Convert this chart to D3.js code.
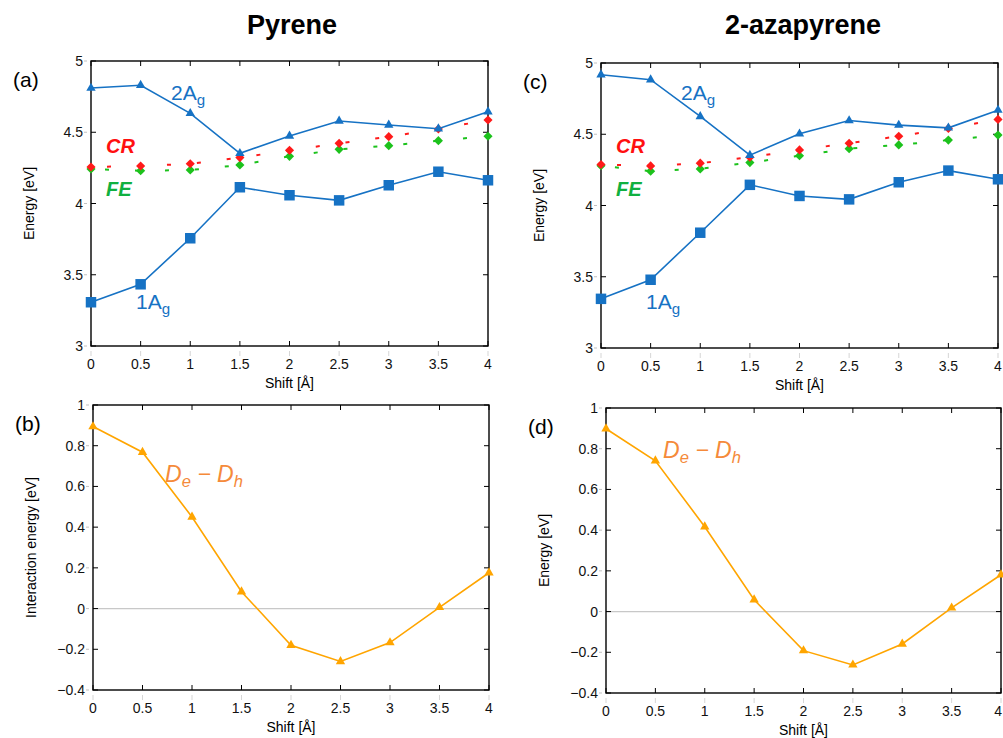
<!DOCTYPE html>
<html>
<head>
<meta charset="utf-8">
<script src="https://cdn.jsdelivr.net/npm/d3@7"></script>
<style>
body { margin: 0; background: #fff; }
svg text { font-family: "Liberation Sans", Arial, Helvetica, sans-serif; }
</style>
</head>
<body>
<svg id="fig" width="1003" height="738"></svg>
<script>
// shift values, shared by every panel
var shifts = [0, 0.5, 1, 1.5, 2, 2.5, 3, 3.5, 4];
var xTicks = [0, 0.5, 1, 1.5, 2, 2.5, 3, 3.5, 4];
var topTicks = [3, 3.5, 4, 4.5, 5];
var botTicks = [-0.4, -0.2, 0, 0.2, 0.4, 0.6, 0.8, 1];

// pyrene
var pyr_2Ag = [4.81, 4.83, 4.633, 4.352, 4.474, 4.579, 4.551, 4.525, 4.644];
var pyr_1Ag = [3.307, 3.433, 3.756, 4.114, 4.058, 4.022, 4.128, 4.223, 4.163];
var pyr_CR  = [4.256, 4.263, 4.279, 4.322, 4.373, 4.422, 4.469, 4.523, 4.586];
var pyr_FE  = [4.242, 4.23, 4.235, 4.27, 4.331, 4.38, 4.406, 4.441, 4.472];
var pyr_DeDh = [0.894, 0.768, 0.45, 0.083, -0.18, -0.26, -0.167, 0.006, 0.176];

// 2-azapyrene
var aza_2Ag = [4.918, 4.883, 4.625, 4.353, 4.503, 4.596, 4.564, 4.545, 4.669];
var aza_1Ag = [3.345, 3.479, 3.809, 4.145, 4.067, 4.043, 4.163, 4.245, 4.184];
var aza_CR  = [4.288, 4.278, 4.297, 4.339, 4.39, 4.437, 4.486, 4.541, 4.604];
var aza_FE  = [4.279, 4.241, 4.257, 4.301, 4.349, 4.399, 4.425, 4.459, 4.494];
var aza_DeDh = [0.898, 0.741, 0.417, 0.058, -0.192, -0.262, -0.159, 0.018, 0.181];

var blue = "#1672c4", red = "#ff1a1a", green = "#1cc21c", orange = "#ffa500";
var W = 1003;

var svg = d3.select("#fig");

svg.append("text").attr("x", 292).attr("y", 34).attr("text-anchor", "middle")
  .style("font-size", "27px").style("font-weight", "bold").text("Pyrene");
svg.append("text").attr("x", 803).attr("y", 34).attr("text-anchor", "middle")
  .style("font-size", "27px").style("font-weight", "bold").text("2-azapyrene");

function panel(p) {
  var x = d3.scaleLinear().domain([0, 4]).range([p.left, p.right]);
  var y = d3.scaleLinear().domain(p.ydom).range([p.bottom, p.top]);
  var g = svg.append("g");

  if (p.zero) {
    g.append("line").attr("x1", p.left).attr("x2", p.right)
      .attr("y1", y(0)).attr("y2", y(0)).attr("stroke", "#c8c8c8").attr("stroke-width", 1.2);
  }

  // ticks (gnuplot style, inside + mirrored)
  xTicks.forEach(function(t) {
    g.append("line").attr("x1", x(t)).attr("x2", x(t)).attr("y1", p.bottom).attr("y2", p.bottom - 5).attr("stroke", "#000");
    g.append("line").attr("x1", x(t)).attr("x2", x(t)).attr("y1", p.top).attr("y2", p.top + 5).attr("stroke", "#000");
    g.append("line").attr("x1", x(t)).attr("x2", x(t)).attr("y1", p.bottom + 5).attr("y2", p.bottom + 10).attr("stroke", "#bbb").attr("stroke-width", 0.6);
    // keep the last label inside the page when the panel touches the edge
    var edge = x(t) + 5 > W;
    g.append("text").attr("x", edge ? W - 1 : x(t)).attr("y", p.bottom + 23)
      .attr("text-anchor", edge ? "end" : "middle")
      .style("font-size", "14px").attr("fill", "#111").text(t);
  });
  p.yticks.forEach(function(t) {
    g.append("line").attr("x1", p.left).attr("x2", p.left + 5).attr("y1", y(t)).attr("y2", y(t)).attr("stroke", "#000");
    g.append("line").attr("x1", p.right).attr("x2", p.right - 5).attr("y1", y(t)).attr("y2", y(t)).attr("stroke", "#000");
    g.append("line").attr("x1", p.left - 7).attr("x2", p.left - 4).attr("y1", y(t)).attr("y2", y(t)).attr("stroke", "#999").attr("stroke-width", 0.6);
    g.append("text").attr("x", p.left - 8).attr("y", y(t) + 5).attr("text-anchor", "end")
      .style("font-size", "14px").attr("fill", "#111").text(d3.format("")(t).replace("-", "\u2212"));
  });

  g.append("rect").attr("x", p.left).attr("y", p.top).attr("width", p.right - p.left)
    .attr("height", p.bottom - p.top).attr("fill", "none").attr("stroke", "#000").attr("stroke-width", 1.4);

  g.append("text").attr("x", (p.left + p.right) / 2).attr("y", p.bottom + 42).attr("text-anchor", "middle")
    .style("font-size", "14px").text("Shift [\u00c5]");
  g.append("text").attr("transform", "translate(" + (p.left - 57) + "," + ((p.top + p.bottom) / 2) + ") rotate(-90)")
    .attr("text-anchor", "middle").style("font-size", "14px").text(p.ylabel);
  g.append("text").attr("x", p.left - 78).attr("y", p.top + 26).style("font-size", "21px").text(p.tag);

  var line = d3.line().x(function(d) { return x(d[0]); }).y(function(d) { return y(d[1]); });

  p.series.forEach(function(s) {
    var pts = shifts.map(function(v, i) { return [v, s.values[i]]; });
    var path = g.append("path").datum(pts).attr("d", line).attr("fill", "none")
      .attr("stroke", s.color).attr("stroke-width", s.dash ? 2 : 1.6);
    if (s.dash) path.attr("stroke-dasharray", s.dash).attr("stroke-dashoffset", s.offset || 0);
    var sym = d3.symbol().type(s.shape).size(s.size);
    g.selectAll(null).data(pts).enter().append("path")
      .attr("d", sym)
      .attr("transform", function(d) {
        return "translate(" + x(d[0]) + "," + y(d[1]) + ")" + (s.rot ? " rotate(45)" : "");
      })
      .attr("fill", s.color);
  });

  p.labels.forEach(function(l) {
    var t = g.append("text").attr("x", l.x).attr("y", l.y).attr("fill", l.color)
      .style("font-size", l.size + "px");
    if (l.bold) t.style("font-weight", "bold");
    if (l.italic) t.style("font-style", "italic");
    l.parts.forEach(function(pt) {
      var ts = t.append("tspan").text(pt.t);
      if (pt.sub) ts.attr("dy", 5).style("font-size", (l.size * 0.72) + "px");
      if (pt.up) ts.attr("dy", -5);
    });
  });
}

function topSeries(a2, a1, cr, fe) {
  return [
    {values: fe, color: green, shape: d3.symbolSquare, size: 42, rot: true, dash: "4,26", offset: -14},
    {values: cr, color: red, shape: d3.symbolSquare, size: 42, rot: true, dash: "4,26", offset: -16},
    {values: a2, color: blue, shape: d3.symbolTriangle, size: 38},
    {values: a1, color: blue, shape: d3.symbolSquare, size: 110}
  ];
}

function topLabels(dx) {
  return [
    {x: 171 + dx, y: 100, color: blue, size: 21, parts: [{t: "2A"}, {t: "g", sub: true}]},
    {x: 136 + dx, y: 309, color: blue, size: 21, parts: [{t: "1A"}, {t: "g", sub: true}]},
    {x: 106 + dx, y: 153, color: "#ff1010", size: 20, bold: true, italic: true, parts: [{t: "CR"}]},
    {x: 106 + dx, y: 196, color: "#10b040", size: 20, bold: true, italic: true, parts: [{t: "FE"}]}
  ];
}

panel({left: 91, right: 488, top: 61, bottom: 346, ydom: [3, 5], yticks: topTicks,
  ylabel: "Energy [eV]", tag: "(a)", series: topSeries(pyr_2Ag, pyr_1Ag, pyr_CR, pyr_FE), labels: topLabels(0)});

panel({left: 601, right: 998, top: 63, bottom: 348, ydom: [3, 5], yticks: topTicks,
  ylabel: "Energy [eV]", tag: "(c)", series: topSeries(aza_2Ag, aza_1Ag, aza_CR, aza_FE), labels: topLabels(510)});

panel({left: 93, right: 489, top: 405, bottom: 690, ydom: [-0.4, 1], yticks: botTicks, zero: true,
  ylabel: "Interaction energy [eV]", tag: "(b)",
  series: [{values: pyr_DeDh, color: orange, shape: d3.symbolTriangle, size: 38}],
  labels: [{x: 165, y: 482, color: "#f58a3a", size: 23, italic: true,
    parts: [{t: "D"}, {t: "e", sub: true}, {t: " \u2212 D", up: true}, {t: "h", sub: true}]}]});

panel({left: 606, right: 1001, top: 408, bottom: 693, ydom: [-0.4, 1], yticks: botTicks, zero: true,
  ylabel: "Energy [eV]", tag: "(d)",
  series: [{values: aza_DeDh, color: orange, shape: d3.symbolTriangle, size: 38}],
  labels: [{x: 663, y: 458, color: "#f58a3a", size: 23, italic: true,
    parts: [{t: "D"}, {t: "e", sub: true}, {t: " \u2212 D", up: true}, {t: "h", sub: true}]}]});
</script>
</body>
</html>
